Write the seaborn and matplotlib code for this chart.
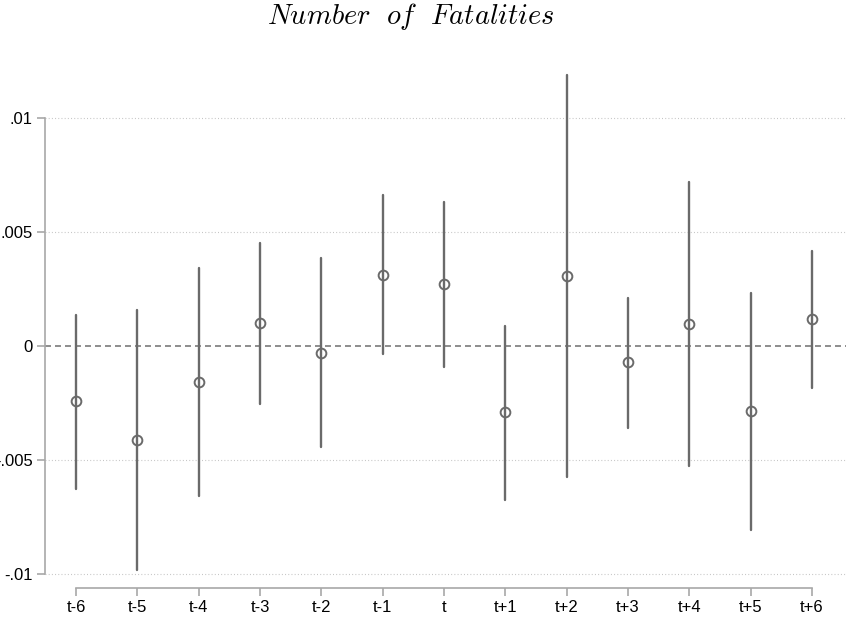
import matplotlib
matplotlib.use("Agg")
import matplotlib.pyplot as plt
import seaborn as sns
import pandas as pd
import numpy as np

# ---- data ----
periods = ['t-6', 't-5', 't-4', 't-3', 't-2', 't-1', 't',
           't+1', 't+2', 't+3', 't+4', 't+5', 't+6']
coef = [-0.00244, -0.00412, -0.00158, 0.00098, -0.00031, 0.00311, 0.00269,
        -0.00292, 0.00307, -0.00073, 0.00096, -0.00288, 0.00117]
ci_low = [-0.00627, -0.00982, -0.00658, -0.00254, -0.00444, -0.00035, -0.00091,
          -0.00675, -0.00576, -0.00361, -0.00526, -0.00810, -0.00183]
ci_high = [0.00136, 0.00158, 0.00341, 0.00450, 0.00383, 0.00662, 0.00629,
           0.00089, 0.01189, 0.00211, 0.00718, 0.00231, 0.00414]
ytick_vals = [-0.01, -0.005, 0, 0.005, 0.01]
ytick_labels = ['-.01', '-.005', '0', '.005', '.01']
title = r'$\mathit{Number\ \ of\ \ Fatalities}$'

df = pd.DataFrame({
    'period': periods * 3,
    'value': ci_low + coef + ci_high,
})

sns.set_theme(style='white')
plt.rcParams['font.family'] = ['Liberation Sans', 'DejaVu Sans']
plt.rcParams['mathtext.fontset'] = 'cm'
plt.rcParams['lines.scale_dashes'] = False

fig = plt.figure(figsize=(8.46, 6.24), dpi=100)
ax = fig.add_axes([45 / 846, 32 / 624, 800.7 / 846, 538 / 624])

mark_col = '#6a6a6a'
sns.pointplot(data=df, x='period', y='value', order=periods,
              estimator='median', errorbar=('pi', 100),
              linestyle='none', color=mark_col, marker='o',
              markersize=7, markerfacecolor='none', markeredgewidth=1.4,
              err_kws={'linewidth': 1.7}, ax=ax, zorder=3)

# grid and zero line
for yv in ytick_vals:
    if yv != 0:
        ax.axhline(yv, color='#c4c4c4', lw=0.8, ls=(0, (0.7, 1.6)), zorder=0)
ax.axhline(0, color='#7a7a7a', lw=1.2, ls=(0, (4.3, 2.9)), zorder=1)

ax.set_xlim(-0.505, 12.55)
ax.set_ylim(-0.0108, 0.0128)
ax.set_yticks(ytick_vals)
ax.set_yticklabels(ytick_labels)
ax.set_xlabel('')
ax.set_ylabel('')
ax.grid(False)

spine_col = '#a8a8a8'
for s in ['top', 'right']:
    ax.spines[s].set_visible(False)
ax.spines['left'].set_bounds(-0.01, 0.01)
ax.spines['left'].set_color(spine_col)
ax.spines['left'].set_linewidth(1.2)
ax.spines['bottom'].set_position(('data', -0.01061))
ax.spines['bottom'].set_bounds(0, 12)
ax.spines['bottom'].set_color(spine_col)
ax.spines['bottom'].set_linewidth(1.2)

ax.tick_params(axis='both', which='major', length=5.8, width=1.2,
               color=spine_col, labelsize=12, labelcolor='black',
               direction='out', pad=3)
ax.tick_params(axis='x', bottom=True)
ax.tick_params(axis='y', left=True)

fig.text(411 / 846, 1 - 17 / 624, title, ha='center', va='center',
         fontsize=20.5, color='black')

fig.savefig('out.png', dpi=100)
